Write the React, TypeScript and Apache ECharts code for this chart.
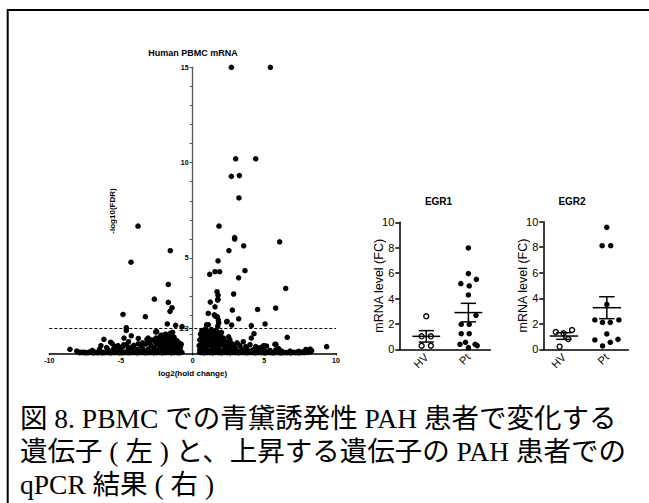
import React, { useEffect, useRef } from "react";
import * as echarts from "echarts";

// ---------- Volcano plot data: [log2 fold change, -log10(FDR)] ----------
const volcanoSignificant: [number, number][] = [
  [2.70, 15.0], [5.42, 15.0], [3.00, 10.2], [4.40, 10.2], [2.70, 9.28], [3.26, 9.32],
  [3.23, 8.15], [-3.81, 6.67], [1.84, 6.67], [2.93, 6.07], [2.93, 5.99], [6.07, 5.85],
  [3.56, 5.64], [-1.56, 5.38], [2.53, 5.39], [-4.30, 4.78], [1.77, 4.85], [1.56, 4.28],
  [1.88, 4.28], [3.65, 4.33], [1.19, 4.14], [3.21, 3.96], [-1.70, 3.61], [6.49, 3.40],
  [1.70, 3.23], [1.77, 3.05], [2.86, 3.11], [-2.67, 2.84], [-1.70, 2.67], [1.77, 2.83],
  [1.23, 2.69], [1.74, 2.79], [-1.44, 2.39], [-1.58, 2.20], [1.56, 2.44], [2.77, 2.27],
  [4.53, 2.30], [5.79, 2.37], [-4.86, 2.04], [-3.30, 1.92], [1.09, 2.09], [1.51, 2.02],
  [1.72, 1.92], [3.21, 1.81], [1.58, 1.95], [2.37, 1.65], [2.72, 1.48], [-1.77, 1.54],
  [-1.19, 1.47], [-4.63, 1.34], [-4.63, 1.20], [1.79, 1.75], [1.82, 1.60], [1.75, 1.42],
  [0.98, 1.50], [1.09, 1.50], [2.40, 1.68], [4.09, 1.45], [5.05, 1.54], [-0.74, 1.40],
  [-2.58, 1.12],
];

const volcanoLeft: [number, number][] = [
  [-8.56, 0.21], [-8.09, 0.12], [-6.19, 0.73], [-5.72, 0.58], [-5.35, 0.35], [-4.79, 0.80],
  [-4.47, 0.61], [-4.28, 0.92], [-3.79, 0.78], [-3.19, 0.73], [-3.10, 0.80], [-2.86, 0.70],
  [-2.56, 0.80], [-4.60, 0.45], [-5.60, 0.50],
  [-2.50, 0.45], [-2.35, 0.62], [-2.20, 0.50], [-2.10, 0.72], [-2.00, 0.55], [-1.90, 0.80],
  [-1.85, 0.45], [-1.75, 0.68], [-1.65, 0.95], [-1.60, 0.55], [-1.50, 0.78], [-1.45, 0.42],
  [-1.35, 0.62], [-1.30, 0.85], [-1.20, 0.50], [-1.10, 0.66], [-1.00, 0.40], [-0.95, 0.55],
  [-0.85, 0.35], [-0.80, 0.48], [-2.90, 0.42], [-3.30, 0.48], [-3.60, 0.38], [-4.10, 0.42],
  [-4.90, 0.32], [-5.50, 0.25], [-6.00, 0.30], [-6.50, 0.20], [-7.00, 0.15], [-1.58, 1.05],
  [-2.51, 1.13], [-2.20, 0.95], [-1.90, 1.00], [-1.40, 1.10],
  [-2.60, 0.60], [-2.40, 0.80], [-2.30, 0.45], [-2.15, 0.35], [-2.05, 0.90], [-1.95, 0.62],
  [-1.80, 0.38], [-1.70, 0.50], [-1.55, 0.42], [-1.45, 0.90], [-1.30, 0.35], [-1.25, 0.72],
  [-1.15, 0.40], [-1.05, 0.50], [-0.90, 0.42], [-3.00, 0.55], [-3.50, 0.55], [-3.80, 0.50],
  [-4.20, 0.35], [-4.50, 0.30], [-4.80, 0.45], [-5.20, 0.40], [-6.40, 0.40],
  [-8.00, 0.08], [-7.80, 0.05], [-7.60, 0.06], [-7.40, 0.04], [-7.20, 0.07], [-7.00, 0.05],
  [-6.80, 0.06], [-6.60, 0.04], [-6.40, 0.08], [-6.20, 0.05], [-6.00, 0.06], [-5.80, 0.04],
  [-5.60, 0.07], [-5.40, 0.05], [-5.20, 0.09], [-5.00, 0.06], [-4.80, 0.05], [-4.60, 0.08],
  [-4.40, 0.06], [-4.20, 0.10], [-4.00, 0.07], [-3.80, 0.12], [-3.60, 0.08], [-3.40, 0.10],
  [-3.20, 0.14], [-3.00, 0.09], [-2.80, 0.12], [-2.60, 0.15], [-2.40, 0.10], [-2.20, 0.18],
  [-2.00, 0.12], [-1.80, 0.20], [-1.60, 0.14], [-1.40, 0.18], [-1.20, 0.12], [-1.00, 0.16],
  [-0.85, 0.10], [-0.75, 0.05],
  [-7.90, 0.03], [-7.70, 0.04], [-7.50, 0.02], [-7.30, 0.03], [-7.10, 0.04], [-6.90, 0.02],
  [-6.70, 0.03], [-6.50, 0.04], [-6.30, 0.02], [-6.10, 0.03], [-5.90, 0.04], [-5.70, 0.02],
  [-5.50, 0.03], [-5.30, 0.04], [-5.10, 0.02], [-4.90, 0.03], [-4.70, 0.04], [-4.50, 0.02],
  [-4.30, 0.03], [-4.10, 0.04], [-3.90, 0.02], [-3.70, 0.03], [-3.50, 0.04], [-3.30, 0.02],
  [-3.10, 0.03], [-2.90, 0.04], [-2.70, 0.02], [-2.50, 0.03], [-2.30, 0.04], [-2.10, 0.02],
  [-1.90, 0.03], [-1.70, 0.04], [-1.50, 0.02], [-1.30, 0.03], [-1.10, 0.04], [-0.95, 0.02],
  [-5.90, 0.18], [-5.10, 0.20], [-4.30, 0.22], [-3.90, 0.20], [-3.50, 0.25], [-3.10, 0.22],
  [-2.70, 0.28], [-2.30, 0.25], [-1.90, 0.30], [-1.50, 0.28], [-1.10, 0.26], [-0.90, 0.22],
];

const volcanoRight: [number, number][] = [
  [0.45, 0.40], [0.50, 0.70], [0.55, 1.00], [0.60, 0.50], [0.65, 1.20], [0.70, 0.85],
  [0.80, 1.10], [0.85, 0.60], [0.90, 1.28], [0.95, 0.90], [1.00, 0.45], [1.05, 1.15],
  [1.10, 0.70], [1.20, 1.00], [1.25, 0.55], [1.30, 1.25], [1.40, 0.80], [1.45, 1.10],
  [1.50, 0.50], [1.60, 0.95], [1.65, 1.22], [1.70, 0.65], [1.80, 1.05], [1.85, 0.50],
  [1.90, 0.80], [2.00, 1.10], [2.05, 0.55], [2.15, 0.80], [2.30, 0.60], [2.45, 0.45],
  [2.60, 0.70], [2.75, 0.50], [2.90, 0.35], [3.10, 0.55], [3.30, 0.40], [3.53, 0.61],
  [3.70, 0.35], [4.00, 0.45], [4.28, 1.03], [4.09, 0.80], [4.40, 0.35], [4.70, 0.30],
  [4.93, 0.38], [5.16, 0.38], [5.74, 0.47], [5.81, 0.47], [6.60, 0.84], [2.51, 0.86],
  [4.98, 0.40], [9.35, 0.35], [7.90, 0.20], [8.20, 0.22], [6.00, 0.25],
  [0.50, 0.20], [0.55, 0.45], [0.60, 0.80], [0.62, 1.05], [0.70, 0.40], [0.75, 0.65],
  [0.80, 0.90], [0.85, 1.20], [0.90, 0.35], [0.95, 0.60], [1.00, 1.00], [1.05, 0.75],
  [1.10, 0.45], [1.15, 0.90], [1.20, 0.70], [1.25, 1.15], [1.30, 0.45], [1.35, 0.65],
  [1.40, 1.00], [1.50, 0.85], [1.55, 0.60], [1.60, 0.35], [1.70, 0.90], [1.75, 1.10],
  [1.80, 0.60], [1.90, 0.45], [1.95, 1.00], [2.00, 0.75], [2.10, 0.45], [2.20, 0.65],
  [2.30, 0.35], [2.40, 0.55], [2.50, 0.30], [2.70, 0.35],
  [0.50, 0.05], [0.70, 0.08], [0.90, 0.10], [1.10, 0.12], [1.30, 0.15], [1.50, 0.12],
  [1.70, 0.16], [1.90, 0.12], [2.10, 0.14], [2.30, 0.10], [2.50, 0.12], [2.70, 0.09],
  [2.90, 0.11], [3.10, 0.08], [3.30, 0.10], [3.50, 0.07], [3.70, 0.09], [3.90, 0.06],
  [4.10, 0.08], [4.30, 0.05], [4.50, 0.07], [4.70, 0.05], [4.90, 0.06], [5.10, 0.04],
  [5.30, 0.06], [5.50, 0.05], [5.70, 0.04], [5.90, 0.06], [6.10, 0.04], [6.30, 0.05],
  [6.50, 0.04], [6.70, 0.06], [6.90, 0.04], [7.10, 0.05], [7.30, 0.06], [7.50, 0.05],
  [7.70, 0.07], [7.90, 0.08], [8.10, 0.10], [8.30, 0.14],
  [0.60, 0.03], [0.80, 0.02], [1.00, 0.04], [1.20, 0.03], [1.40, 0.02], [1.60, 0.04],
  [1.80, 0.03], [2.00, 0.02], [2.20, 0.04], [2.40, 0.03], [2.60, 0.02], [2.80, 0.04],
  [3.00, 0.03], [3.20, 0.02], [3.40, 0.04], [3.60, 0.03], [3.80, 0.02], [4.00, 0.04],
  [4.20, 0.03], [4.40, 0.02], [4.60, 0.04], [4.80, 0.03], [5.00, 0.02], [5.20, 0.04],
  [5.40, 0.03], [5.60, 0.02], [5.80, 0.04], [6.00, 0.03], [6.20, 0.02], [6.40, 0.04],
  [6.60, 0.03], [6.80, 0.02], [7.00, 0.04], [7.20, 0.03], [7.40, 0.02], [7.60, 0.04],
  [7.80, 0.03], [8.00, 0.05], [8.20, 0.08],
  [0.60, 0.25], [1.00, 0.28], [1.40, 0.30], [1.80, 0.26], [2.20, 0.28], [2.60, 0.22],
  [3.00, 0.25], [3.40, 0.20], [3.80, 0.22], [4.20, 0.18], [4.60, 0.20], [5.00, 0.17],
  [5.40, 0.15], [5.80, 0.18], [6.20, 0.12], [6.80, 0.12], [7.40, 0.10], [8.00, 0.15],
];

const fdrThreshold = 1.3;
const volcanoYLabels = [1.3, 5, 10, 15];
const volcanoYTicks = [1, 1.3, 2, 3, 4, 5, 6, 7, 8, 9, 10, 11, 12, 13, 14, 15];

// ---------- qPCR data: [group position (1 = HV, 2 = Pt, with jitter), FC] ----------
const groupNames = ["HV", "Pt"];
const egr1HV: [number, number][] = [[1.0, 2.6], [0.89, 1.02], [1.11, 1.02], [0.89, 0.28], [1.11, 0.28]];
const egr1Pt: [number, number][] = [
  [2.0, 7.98], [2.0, 5.96], [2.19, 5.51], [1.82, 5.17], [2.02, 4.99], [2.0, 4.28],
  [2.18, 2.68], [1.83, 1.97], [2.02, 1.97], [1.83, 1.23], [2.02, 1.23], [1.93, 0.55],
  [1.8, 0.39], [2.16, 0.39], [2.0, 0.13], [2.21, 0.29],
];
const egr1Stats: [number, number, number][] = [[1, 1.02, 0.45], [2, 2.89, 0.73]]; // [group, mean, SEM]

const egr2HV: [number, number][] = [[0.81, 1.36], [0.99, 1.25], [1.19, 1.51], [1.1, 0.81], [0.9, 0.21]];
const egr2Pt: [number, number][] = [
  [2.0, 9.56], [1.89, 8.12], [2.09, 8.12], [2.0, 3.52], [1.72, 2.3], [1.9, 2.11],
  [2.08, 2.11], [2.28, 2.3], [2.0, 1.2], [1.72, 0.73], [2.26, 0.78], [2.08, 0.55], [1.9, 0.26],
];
const egr2Stats: [number, number, number][] = [[1, 1.04, 0.26], [2, 3.26, 0.86]];

const qpcrYTicks = [0, 2, 4, 6, 8, 10];

const captionLines = [
  "図 8. PBMC での青黛誘発性 PAH 患者で変化する",
  "遺伝子 ( 左 ) と、上昇する遺伝子の PAH 患者での",
  "qPCR 結果 ( 右 )",
];

const SANS = "'Liberation Sans', Arial, sans-serif";
const CAPTION_FONT = "'Liberation Serif', 'Noto Sans CJK JP', serif";

function meanSemRenderer(params: any, api: any) {
  const x = api.value(0);
  const m = api.value(1);
  const s = api.value(2);
  const pm = api.coord([x, m]);
  const pt = api.coord([x, m + s]);
  const pb = api.coord([x, m - s]);
  const half = api.size([0.33, 0])[0];
  const cap = api.size([0.18, 0])[0];
  const st = { stroke: "#000", lineWidth: 1.5 };
  return {
    type: "group",
    children: [
      { type: "line", shape: { x1: pm[0] - half, y1: pm[1], x2: pm[0] + half, y2: pm[1] }, style: st },
      { type: "line", shape: { x1: pt[0], y1: pt[1], x2: pb[0], y2: pb[1] }, style: st },
      { type: "line", shape: { x1: pt[0] - cap, y1: pt[1], x2: pt[0] + cap, y2: pt[1] }, style: st },
      { type: "line", shape: { x1: pb[0] - cap, y1: pb[1], x2: pb[0] + cap, y2: pb[1] }, style: st },
    ],
  };
}

function qpcrXAxis(gridIndex: number, min: number, max: number) {
  return {
    type: "value",
    gridIndex,
    min,
    max,
    splitLine: { show: false },
    axisLine: { show: true, onZero: false, lineStyle: { color: "#000", width: 1.5 } },
    axisTick: { show: false },
    axisLabel: {
      customValues: [1, 2],
      formatter: (v: number) => groupNames[Math.round(v) - 1] ?? "",
      rotate: 45,
      margin: 6,
      color: "#000",
      fontSize: 11,
      fontFamily: SANS,
    },
  };
}

function qpcrYAxis(gridIndex: number) {
  return {
    type: "value",
    gridIndex,
    min: 0,
    max: 10,
    interval: 2,
    name: "mRNA level (FC)",
    nameLocation: "middle",
    nameGap: 14,
    nameMoveOverlap: false,
    nameTextStyle: { color: "#000", fontSize: 12.5, fontFamily: SANS },
    splitLine: { show: false },
    axisLine: { show: true, lineStyle: { color: "#000", width: 1.5 } },
    axisTick: { show: true, length: 4, lineStyle: { color: "#000", width: 1.5 } },
    axisLabel: {
      customValues: qpcrYTicks,
      color: "#000",
      fontSize: 11,
      fontFamily: SANS,
      margin: 5,
    },
  };
}

const gridBase = { containLabel: false, outerBoundsMode: "none" };

export default function App() {
  const ref = useRef<HTMLDivElement>(null);
  useEffect(() => {
    if (!ref.current) return;
    const chart = echarts.init(ref.current, null, { renderer: "svg" });
    const dot = { symbol: "circle", symbolSize: 5.5, itemStyle: { color: "#000", opacity: 1 } };
    const openDot = {
      symbol: "circle",
      symbolSize: 5,
      itemStyle: { color: "#fff", borderColor: "#000", borderWidth: 1.4, opacity: 1 },
    };
    chart.setOption({
      animation: false,
      backgroundColor: "#fff",
      grid: [
        { ...gridBase, left: 49.3, top: 67.3, width: 286.7, height: 286 },
        { ...gridBase, left: 399.3, top: 222.3, width: 91, height: 127 },
        { ...gridBase, left: 543.3, top: 221.7, width: 85, height: 127.6 },
      ],
      xAxis: [
        {
          type: "value",
          gridIndex: 0,
          min: -10,
          max: 10,
          interval: 5,
          name: "log2(hold change)",
          nameLocation: "middle",
          nameGap: 15,
          nameTextStyle: { color: "#000", fontSize: 8, fontWeight: "bold", fontFamily: SANS },
          splitLine: { show: false },
          axisLine: { onZero: false, lineStyle: { color: "#000", width: 1.5 } },
          axisTick: { show: true, length: 2, lineStyle: { color: "#000" } },
          axisLabel: { color: "#000", fontSize: 7, fontWeight: "bold", fontFamily: SANS, margin: 4 },
        },
        qpcrXAxis(1, 0.36, 2.52),
        qpcrXAxis(2, 0.52, 2.5),
      ],
      yAxis: [
        {
          type: "value",
          gridIndex: 0,
          min: 0,
          max: 15,
          interval: 1,
          position: "left",
          offset: -143.35,
          splitLine: { show: false },
          axisLine: { onZero: false, lineStyle: { color: "#555", width: 1.3 } },
          axisTick: { show: true, length: 3, customValues: volcanoYTicks, lineStyle: { color: "#555" } },
          axisLabel: {
            customValues: volcanoYLabels,
            color: "#000",
            fontSize: 7,
            fontWeight: "bold",
            fontFamily: SANS,
            margin: 4,
          },
        },
        qpcrYAxis(1),
        qpcrYAxis(2),
      ],
      series: [
        { type: "scatter", xAxisIndex: 0, yAxisIndex: 0, data: volcanoLeft, ...dot },
        { type: "scatter", xAxisIndex: 0, yAxisIndex: 0, data: volcanoRight, ...dot },
        {
          type: "scatter",
          xAxisIndex: 0,
          yAxisIndex: 0,
          data: volcanoSignificant,
          ...dot,
          markLine: {
            silent: true,
            symbol: "none",
            label: { show: false },
            lineStyle: { color: "#000", width: 1, type: [3, 2] },
            data: [{ yAxis: fdrThreshold }],
          },
        },
        { type: "scatter", xAxisIndex: 1, yAxisIndex: 1, data: egr1HV, ...openDot },
        { type: "scatter", xAxisIndex: 1, yAxisIndex: 1, data: egr1Pt, ...dot },
        {
          type: "custom",
          xAxisIndex: 1,
          yAxisIndex: 1,
          data: egr1Stats,
          renderItem: meanSemRenderer,
          z: 5,
        },
        { type: "scatter", xAxisIndex: 2, yAxisIndex: 2, data: egr2HV, ...openDot },
        { type: "scatter", xAxisIndex: 2, yAxisIndex: 2, data: egr2Pt, ...dot },
        {
          type: "custom",
          xAxisIndex: 2,
          yAxisIndex: 2,
          data: egr2Stats,
          renderItem: meanSemRenderer,
          z: 5,
        },
      ],
      graphic: [
        {
          type: "rect",
          shape: { x: 7.7, y: 10, width: 700, height: 600 },
          style: { fill: "none", stroke: "#000", lineWidth: 2 },
          z: 0,
        },
        {
          type: "text",
          x: 193,
          y: 53,
          style: {
            text: "Human PBMC mRNA",
            fill: "#000",
            font: `bold 9px ${SANS}`,
            textAlign: "center",
            textVerticalAlign: "middle",
          },
        },
        {
          type: "text",
          x: 112,
          y: 211,
          rotation: Math.PI / 2,
          style: {
            text: "-log10(FDR)",
            fill: "#000",
            font: `bold 8px ${SANS}`,
            textAlign: "center",
            textVerticalAlign: "middle",
          },
        },
        {
          type: "text",
          x: 438.5,
          y: 201,
          style: {
            text: "EGR1",
            fill: "#000",
            font: `bold 10px ${SANS}`,
            textAlign: "center",
            textVerticalAlign: "middle",
          },
        },
        {
          type: "text",
          x: 572,
          y: 201,
          style: {
            text: "EGR2",
            fill: "#000",
            font: `bold 10px ${SANS}`,
            textAlign: "center",
            textVerticalAlign: "middle",
          },
        },
        ...captionLines.map((t, i) => ({
          type: "text",
          x: 20,
          y: 418 + i * 33,
          style: {
            text: t,
            fill: "#000",
            font: `27.5px ${CAPTION_FONT}`,
            textAlign: "left",
            textVerticalAlign: "middle",
          },
        })),
      ],
    });
    return () => chart.dispose();
  }, []);
  return (
    <div
      ref={ref}
      style={{ position: "absolute", left: 0, top: 0, width: 649, height: 503, background: "#fff" }}
    />
  );
}
